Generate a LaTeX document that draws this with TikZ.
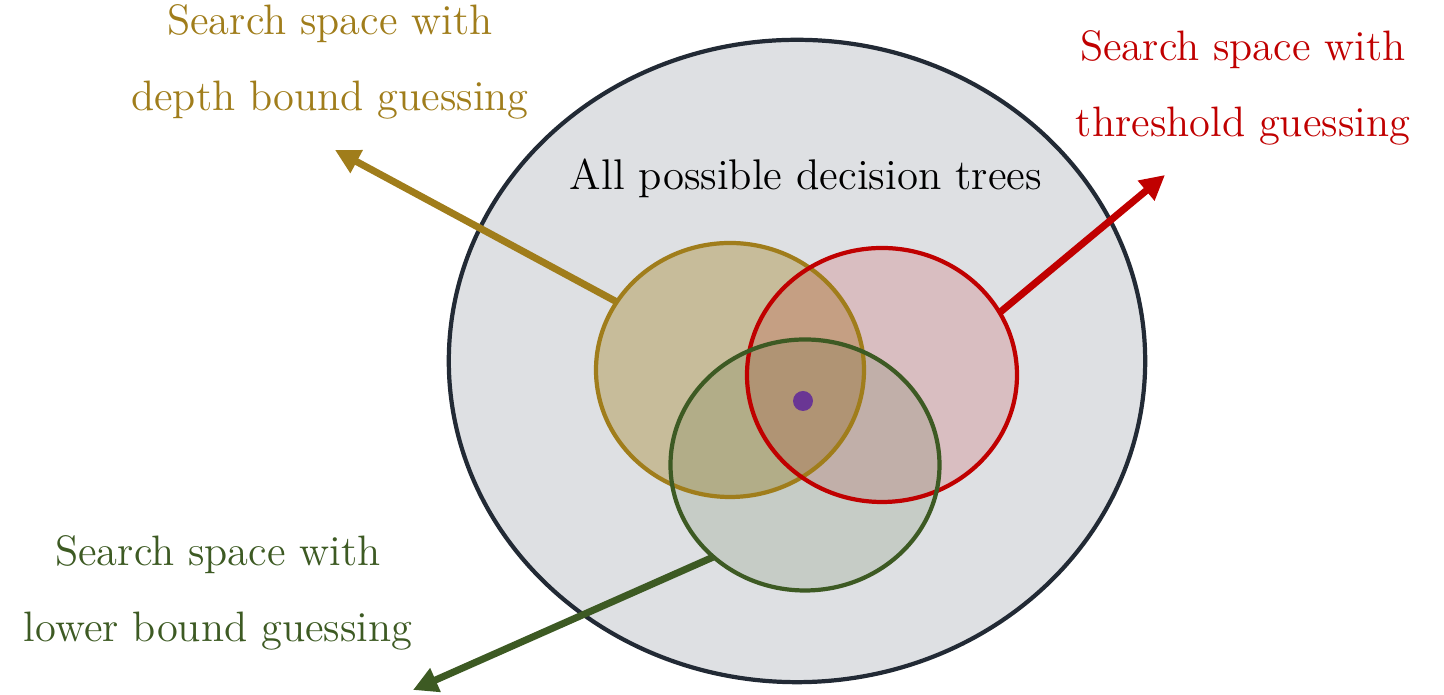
\documentclass[tikz,border=0pt]{standalone}
\usepackage{xcolor}
\usepackage{tikz}
\usetikzlibrary{arrows.meta,shapes.geometric}
\definecolor{depthOlive}{RGB}{160,125,27}
\definecolor{threshRed}{RGB}{192,0,0}
\definecolor{lowerGreen}{RGB}{61,90,35}
\definecolor{allGray}{RGB}{222,224,227}
\definecolor{allBorder}{RGB}{34,42,53}
\definecolor{dotPurple}{RGB}{106,54,148}

\tikzset{
  spacebox/.style={ellipse, inner sep=0pt},
  spaceline/.style={line width=1.2pt},
  spacearrow/.style={line width=2pt, -{Triangle[length=7pt,width=7pt]}},
  spacelabel/.style={align=center, font=\fontsize{12.1}{21.5}\selectfont}
}

\begin{document}
\begin{tikzpicture}[x=0.01cm, y=-0.01cm]
\useasboundingbox (0,0) rectangle (1444,695);

% all trees
\node[ellipse, draw=allBorder, fill=allGray, line width=1.2pt, inner sep=0pt,
  minimum width=6.96cm, minimum height=6.42cm] (all) at (797,361) {};
\node (alltext) at (806,178) {\fontsize{12.2}{15}\selectfont All possible decision trees};

% the three search spaces (fills first, outlines on top)
\node[spacebox, fill=depthOlive, fill opacity=0.36,
  minimum width=2.68cm, minimum height=2.54cm] (depth) at (730,370) {};
\node[spacebox, fill=threshRed, fill opacity=0.15,
  minimum width=2.70cm, minimum height=2.54cm] (thresh) at (882,375) {};
\node[spacebox, fill=lowerGreen, fill opacity=0.15,
  minimum width=2.69cm, minimum height=2.51cm] (lower) at (805,465) {};
\draw[spaceline, depthOlive] (depth.center) ellipse [x radius=134, y radius=127];
\draw[spaceline, threshRed] (thresh.center) ellipse [x radius=135, y radius=127];
\draw[spaceline, lowerGreen] (lower.center) ellipse [x radius=134.5, y radius=125.5];
\fill[dotPurple] (803,401) circle (10);

% labels
\node[spacelabel, text=depthOlive] (depthtext) at (330,62) {Search space with\\depth bound guessing};
\node[spacelabel, text=threshRed] (threshtext) at (1243,88) {Search space with\\threshold guessing};
\node[spacelabel, text=lowerGreen] (lowertext) at (218,593) {Search space with\\lower bound guessing};

\coordinate (depthtip) at (335,150);
\coordinate (threshtip) at (1165,175);
\coordinate (lowertip) at (413,690);

\draw[spacearrow, depthOlive] (depth.149) -- (depthtip);
\draw[spacearrow, threshRed] (thresh.28) -- (threshtip);
\draw[spacearrow, lowerGreen] (lower.225) -- (lowertip);
\end{tikzpicture}
\end{document}
